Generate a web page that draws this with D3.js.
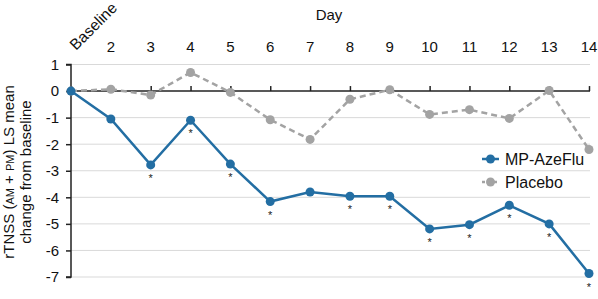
<!DOCTYPE html>
<html>
<head>
<meta charset="utf-8">
<script src="https://cdn.jsdelivr.net/npm/d3@7"></script>
<style>
  body { margin: 0; background: #fff; }
  svg { font-family: "Liberation Sans", Arial, sans-serif; }
</style>
</head>
<body>
<svg id="chart" width="598" height="299"></svg>
<script>
// values
var days = [1, 2, 3, 4, 5, 6, 7, 8, 9, 10, 11, 12, 13, 14];
var dayLabels = ["Baseline", "2", "3", "4", "5", "6", "7", "8", "9", "10", "11", "12", "13", "14"];
var azeflu = [0, -1.05, -2.78, -1.1, -2.75, -4.16, -3.8, -3.96, -3.96, -5.19, -5.03, -4.3, -5.0, -6.87];
var placebo = [0, 0.07, -0.15, 0.7, -0.05, -1.08, -1.82, -0.31, 0.05, -0.88, -0.7, -1.03, 0.02, -2.2];
var signif = [false, false, true, true, true, true, false, true, true, true, true, true, true, true];
var yTicks = [1, 0, -1, -2, -3, -4, -5, -6, -7];
var seriesNames = ["MP-AzeFlu", "Placebo"];

var blue = "#236ea3", grey = "#a3a3a3";
var svg = d3.select("#chart");

var x = d3.scaleLinear().domain([1, 14]).range([71, 589]);
var y = d3.scaleLinear().domain([1, -7]).range([64.5, 277]);

// gridlines
svg.append("g").selectAll("line").data(yTicks.filter(function(d) { return d !== 0; }))
  .join("line")
  .attr("x1", 71).attr("x2", 590)
  .attr("y1", function(d) { return y(d); }).attr("y2", function(d) { return y(d); })
  .attr("stroke", "#d9d9d9").attr("stroke-width", 1);

// y axis
var yAxis = d3.axisLeft(y).tickValues(yTicks).tickSize(5).tickPadding(7).tickFormat(d3.format("d"));
var gy = svg.append("g").attr("transform", "translate(71,0)").call(yAxis);
gy.select(".domain").attr("stroke", "#222").attr("stroke-width", 1.5).attr("d", "M-5," + y(1) + "H0V" + y(-7) + "H-5");
gy.selectAll(".tick line").attr("stroke", "#222").attr("stroke-width", 1.5);
gy.selectAll(".tick text").attr("font-size", 15).attr("fill", "#111")
  .text(function(d) { return String(d); });

// x axis along zero, ticks pointing up
var xAxis = d3.axisTop(x).tickValues(days).tickSize(5).tickFormat("");
var gx = svg.append("g").attr("transform", "translate(0," + y(0) + ")").call(xAxis);
gx.select(".domain").attr("stroke", "#222").attr("stroke-width", 1.5).attr("d", "M71,0H590");
gx.selectAll(".tick line").attr("stroke", "#222").attr("stroke-width", 1.5);

// day labels on top
svg.append("g").selectAll("text").data(days.slice(1))
  .join("text")
  .attr("x", function(d) { return x(d); }).attr("y", 52)
  .attr("text-anchor", "middle").attr("font-size", 15).attr("fill", "#111")
  .text(function(d, i) { return dayLabels[i + 1]; });
svg.append("text")
  .attr("transform", "translate(" + (x(1) + 5) + ",51) rotate(-45)")
  .attr("font-size", 15.5).attr("fill", "#111").text(dayLabels[0]);
svg.append("text").attr("x", 329).attr("y", 20).attr("text-anchor", "middle")
  .attr("font-size", 15).attr("fill", "#111").text("Day");

// y title
var t1 = svg.append("text").attr("transform", "translate(14,172) rotate(-90)")
  .attr("text-anchor", "middle").attr("font-size", 15).attr("fill", "#111");
t1.append("tspan").text("rTNSS (");
t1.append("tspan").attr("font-size", 11).text("AM");
t1.append("tspan").text(" + ");
t1.append("tspan").attr("font-size", 11).text("PM");
t1.append("tspan").text(") LS mean");
svg.append("text").attr("transform", "translate(31,172) rotate(-90)")
  .attr("text-anchor", "middle").attr("font-size", 15).attr("fill", "#111")
  .text("change from baseline");

var line = d3.line().x(function(d, i) { return x(days[i]); }).y(function(d) { return y(d); });

// placebo
svg.append("path").datum(placebo).attr("d", line)
  .attr("fill", "none").attr("stroke", grey).attr("stroke-width", 2.5).attr("stroke-dasharray", "6,4");
svg.append("g").selectAll("circle").data(placebo).join("circle")
  .attr("cx", function(d, i) { return x(days[i]); }).attr("cy", function(d) { return y(d); })
  .attr("r", 4.5).attr("fill", grey);

// MP-AzeFlu
svg.append("path").datum(azeflu).attr("d", line)
  .attr("fill", "none").attr("stroke", blue).attr("stroke-width", 2.5);
svg.append("g").selectAll("circle").data(azeflu).join("circle")
  .attr("cx", function(d, i) { return x(days[i]); }).attr("cy", function(d) { return y(d); })
  .attr("r", 4.5).attr("fill", blue);

// significance stars
var starIdx = days.map(function(d, i) { return i; }).filter(function(i) { return signif[i]; });
svg.append("g").selectAll("text").data(starIdx)
  .join("text")
  .attr("x", function(i) { return x(days[i]); })
  .attr("y", function(i) { return y(azeflu[i]) + 17; })
  .attr("text-anchor", "middle").attr("font-size", 11).attr("fill", "#222").text("*");

// legend
var leg = svg.append("g").attr("transform", "translate(482,159)");
leg.append("line").attr("x1", 0).attr("x2", 17).attr("stroke", blue).attr("stroke-width", 2.5);
leg.append("circle").attr("cx", 8.5).attr("r", 4.5).attr("fill", blue);
leg.append("text").attr("x", 23).attr("y", 5.5).attr("font-size", 16).attr("fill", "#111").text(seriesNames[0]);
leg.append("line").attr("x1", 0).attr("x2", 17).attr("y1", 23).attr("y2", 23)
  .attr("stroke", grey).attr("stroke-width", 2.5).attr("stroke-dasharray", "3,3");
leg.append("circle").attr("cx", 8.5).attr("cy", 23).attr("r", 4.5).attr("fill", grey);
leg.append("text").attr("x", 23).attr("y", 28.5).attr("font-size", 16).attr("fill", "#111").text(seriesNames[1]);
</script>
</body>
</html>
